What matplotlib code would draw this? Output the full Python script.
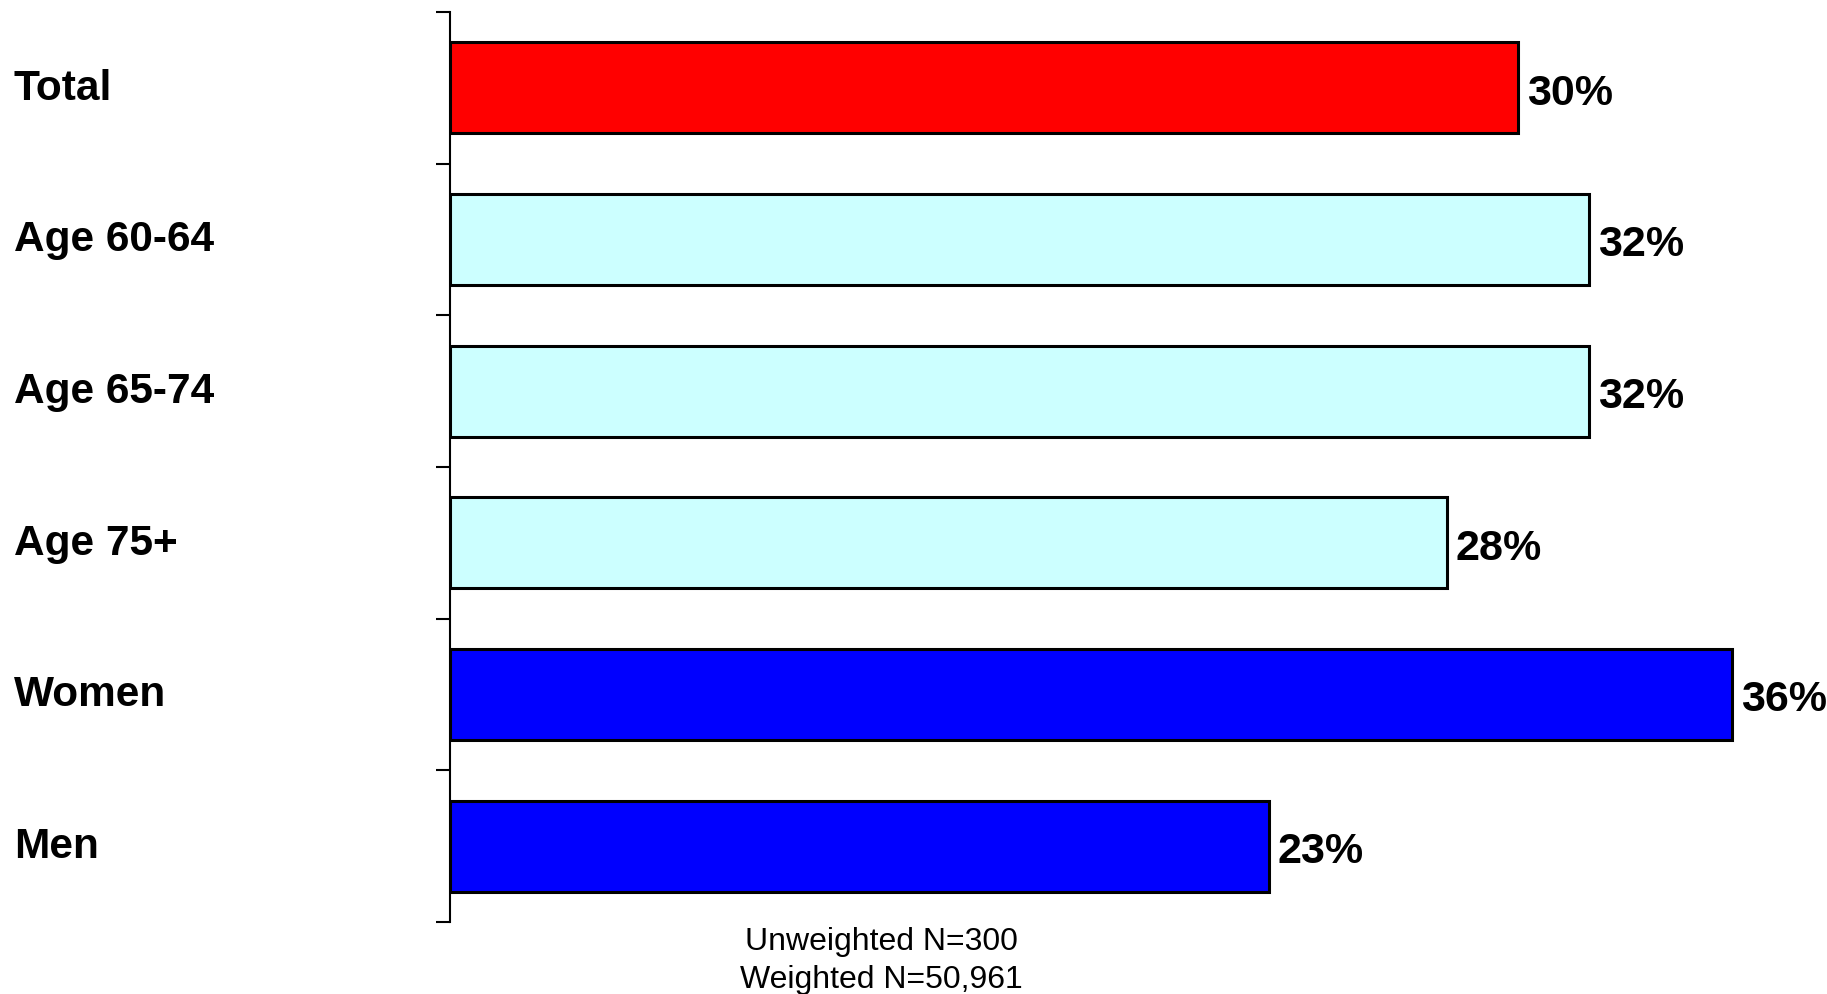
import matplotlib
matplotlib.use("Agg")
import matplotlib.pyplot as plt
import matplotlib.transforms as mtransforms
import numpy as np

categories = ["Total", "Age 60-64", "Age 65-74", "Age 75+", "Women", "Men"]
values = [30, 32, 32, 28, 36, 23]
colors = ["#FF0000", "#CCFFFF", "#CCFFFF", "#CCFFFF", "#0000FF", "#0000FF"]
footnote = ["Unweighted N=300", "Weighted N=50,961"]

plt.rcParams['font.family'] = ['Liberation Sans', 'DejaVu Sans']

W, H = 1827, 995
fig = plt.figure(figsize=(W / 100, H / 100), dpi=100)
ax = fig.add_axes([450 / W, (H - 923) / H, 1 - 450 / W, 910 / H])

y = np.arange(len(categories))
ax.barh(y, values, height=0.6, color=colors, edgecolor="black", linewidth=2.2, zorder=3)

ax.set_xlim(0, (W - 450) / 35.6)
ax.set_ylim(len(categories) - 0.5, -0.5)

for s in ["top", "right", "bottom"]:
    ax.spines[s].set_visible(False)
ax.spines["left"].set_linewidth(1.5)
ax.set_xticks([])
ax.set_yticks(np.arange(len(categories) + 1) - 0.5)
ax.set_yticklabels([])
ax.tick_params(axis="y", direction="out", length=10, width=1.5)

for yi, v in zip(y, values):
    ax.annotate(f"{v}%", xy=(v, yi), xytext=(6.5, -3.5), textcoords="offset points",
                ha="left", va="center", fontsize=31, fontweight="bold")

trans = mtransforms.blended_transform_factory(fig.transFigure, ax.transData)
for yi, c in zip(y, categories):
    ax.text(14 / W, yi, c, transform=trans, ha="left", va="center",
            fontsize=30.5, fontweight="bold", clip_on=False)

fig.text(881 / W, 1 - 942 / H, footnote[0], ha="center", va="center", fontsize=23)
fig.text(881 / W, 1 - 980 / H, footnote[1], ha="center", va="center", fontsize=23)

fig.savefig("out.png", dpi=100)
